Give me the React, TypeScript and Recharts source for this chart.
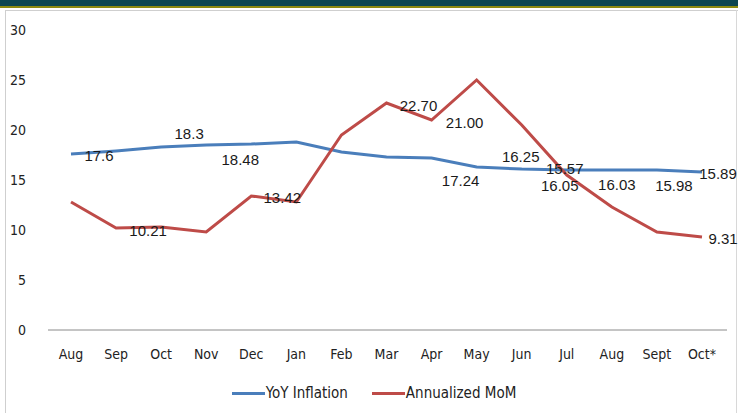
import React from "react";
import { LineChart, Line, XAxis, YAxis, Legend, LabelList } from "recharts";

const months = ["Aug", "Sep", "Oct", "Nov", "Dec", "Jan", "Feb", "Mar", "Apr", "May", "Jun", "Jul", "Aug", "Sept", "Oct*"];
const yoyInflation = [17.6, 17.9, 18.3, 18.5, 18.6, 18.8, 17.8, 17.3, 17.2, 16.3, 16.1, 16.0, 16.0, 16.0, 15.8];
const annualizedMoM = [12.8, 10.2, 10.3, 9.8, 13.4, 12.8, 19.5, 22.7, 21.0, 25.0, 20.5, 15.5, 12.3, 9.8, 9.3];
const yoyLabels = ["17.6", null, "18.3", null, "18.48", null, null, null, "17.24", null, "16.25", "16.05", "16.03", "15.98", "15.89"];
const momLabels = [null, "10.21", null, null, "13.42", null, null, "22.70", "21.00", null, null, "15.57", null, null, "9.31"];
const yTicks = [0, 5, 10, 15, 20, 25, 30];

// label placement (styling, not data): offset of label centre from point
const yoyLabelOffsets: Array<[number, number]> = [
  [28, 1], [0, 0], [28, -14], [0, 0], [-11, 15], [0, 0], [0, 0], [0, 0],
  [29, 22], [0, 0], [-1, -13], [-7, 15], [5, 14], [17, 15], [16, 1],
];
const momLabelOffsets: Array<[number, number]> = [
  [0, 0], [32, 2], [0, 0], [0, 0], [31, 1], [0, 0], [0, 0], [32, 2],
  [33, 2], [0, 0], [0, 0], [-2, -7], [0, 0], [0, 0], [21, 1],
];

const data = months.map((m, i) => ({
  month: m,
  yoy: yoyInflation[i],
  mom: annualizedMoM[i],
  yoyLabel: yoyLabels[i],
  momLabel: momLabels[i],
}));

const BLUE = "#4a7ebb";
const RED = "#be4b48";
const TICK_FONT = "'Liberation Sans Narrow', 'DejaVu Sans Condensed', sans-serif";
const LABEL_FONT = "'Liberation Sans', Arial, sans-serif";

const makeLabel = (offsets: Array<[number, number]>) => (props: any) => {
  const { x, y, value, index } = props;
  if (value === null || value === undefined) return null;
  const [dx, dy] = offsets[index] || [0, 0];
  return (
    <text
      x={x + dx}
      y={y + dy}
      textAnchor="middle"
      dominantBaseline="central"
      fontFamily={LABEL_FONT}
      fontSize={15}
      fill="#1a1a1a"
    >
      {value}
    </text>
  );
};

const LegendContent = () => (
  <div
    style={{
      display: "flex",
      justifyContent: "center",
      alignItems: "center",
      fontFamily: TICK_FONT,
      fontSize: 15,
      color: "#222",
      paddingLeft: 10,
    }}
  >
    <span style={{ display: "inline-block", width: 33, height: 3, background: BLUE, marginRight: 1 }} />
    <span style={{ marginRight: 24 }}>YoY Inflation</span>
    <span style={{ display: "inline-block", width: 33, height: 3, background: RED, marginRight: 1 }} />
    <span>Annualized MoM</span>
  </div>
);

export default function App() {
  return (
    <div style={{ position: "absolute", left: 0, top: 0, width: 738, height: 413, background: "#fff", overflow: "hidden" }}>
      <div style={{ position: "absolute", left: 0, top: 0, width: 738, height: 6, background: "#0c4651" }} />
      <div style={{ position: "absolute", left: 0, top: 6, width: 738, height: 2, background: "#8c8a10" }} />
      <div style={{ position: "absolute", left: 5, top: 10, width: 740, height: 420, border: "1px solid #cfcfcf", boxSizing: "border-box" }} />
      <div style={{ position: "absolute", left: 736, top: 10, width: 1, height: 403, background: "#d8d8d8" }} />
      <div style={{ position: "absolute", left: 0, top: 0 }}>
        <LineChart
          width={738}
          height={413}
          data={data}
          margin={{ top: 30, right: 11, left: 8, bottom: 0 }}
        >
          <XAxis
            dataKey="month"
            padding={{ left: 23, right: 25 }}
            axisLine={{ stroke: "#8a8a8a", strokeWidth: 1 }}
            tickLine={false}
            tickSize={0}
            tickMargin={19}
            height={63}
            interval={0}
            tick={{ fontFamily: TICK_FONT, fontSize: 14, fill: "#222" }}
          />
          <YAxis
            domain={[0, 30]}
            ticks={yTicks}
            width={40}
            axisLine={false}
            tickLine={false}
            tickSize={0}
            tickMargin={22}
            tick={{ fontFamily: TICK_FONT, fontSize: 14, fill: "#222" }}
          />
          <Legend
            verticalAlign="bottom"
            content={<LegendContent />}
            wrapperStyle={{ position: "absolute", top: 384, left: 0, width: 738, height: 20 }}
          />
          <Line
            type="linear"
            dataKey="yoy"
            name="YoY Inflation"
            stroke={BLUE}
            strokeWidth={3}
            dot={false}
            activeDot={false}
            isAnimationActive={false}
          >
            <LabelList dataKey="yoyLabel" content={makeLabel(yoyLabelOffsets)} />
          </Line>
          <Line
            type="linear"
            dataKey="mom"
            name="Annualized MoM"
            stroke={RED}
            strokeWidth={3}
            dot={false}
            activeDot={false}
            isAnimationActive={false}
          >
            <LabelList dataKey="momLabel" content={makeLabel(momLabelOffsets)} />
          </Line>
        </LineChart>
      </div>
    </div>
  );
}
